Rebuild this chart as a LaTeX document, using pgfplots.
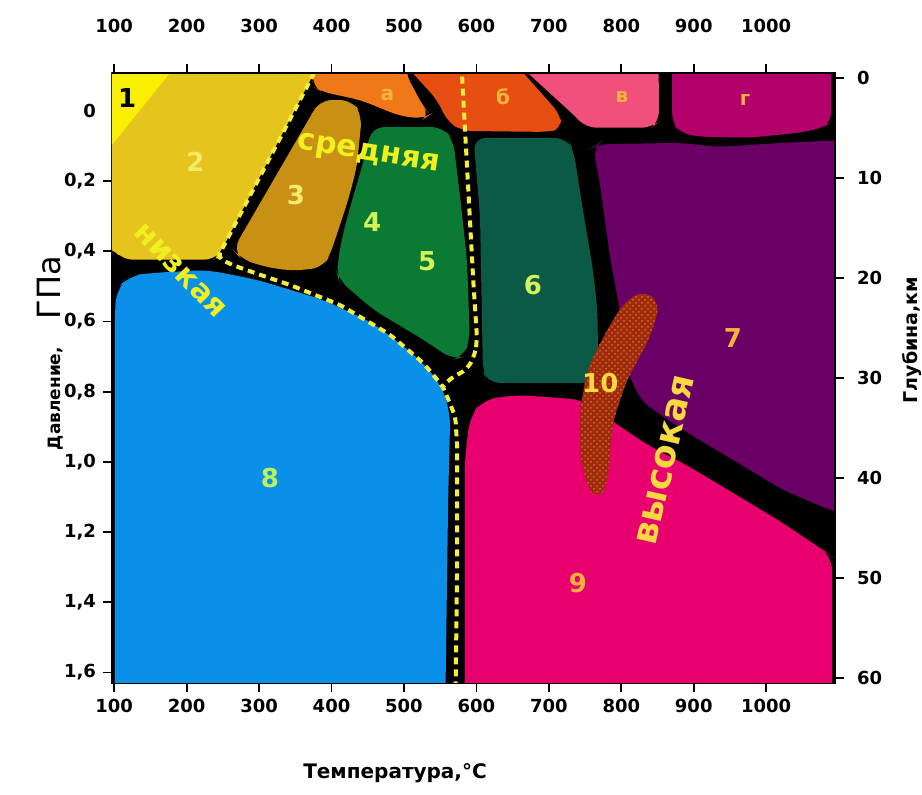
\documentclass[border=0pt]{standalone}
\usepackage{fontspec}
\setmainfont{DejaVu Sans}
\usepackage{pgfplots}
\pgfplotsset{compat=1.18}
\usetikzlibrary{patterns}
\definecolor{c1}{HTML}{F8F000}
\definecolor{c2}{HTML}{E6C41E}
\definecolor{c3}{HTML}{C89114}
\definecolor{ca}{HTML}{F07818}
\definecolor{cb}{HTML}{E64E12}
\definecolor{cv}{HTML}{F0507A}
\definecolor{cg}{HTML}{B4006A}
\definecolor{c45}{HTML}{0A7A35}
\definecolor{c6}{HTML}{0B5A46}
\definecolor{c7}{HTML}{6A0066}
\definecolor{c8}{HTML}{0A90E8}
\definecolor{c9}{HTML}{E8006E}
\definecolor{c10}{HTML}{9A2C0C}
\definecolor{c10b}{HTML}{E8602A}
\definecolor{dash}{HTML}{F2EE3A}
\definecolor{lyel}{HTML}{F6EA6C}
\definecolor{lgrn}{HTML}{D4F25A}
\definecolor{lorg}{HTML}{F2B43A}
\definecolor{lgr8}{HTML}{B9F35E}
\definecolor{ltxt}{HTML}{F0F020}
\definecolor{lvys}{HTML}{F8D840}
\begin{document}
\begin{tikzpicture}
\begin{axis}[
  scale only axis, width=361.5pt, height=305pt,
  xmin=97, xmax=1095, ymin=-0.108, ymax=1.63, y dir=reverse,
  axis background/.style={fill=black},
  axis line style={black, line width=1.3pt},
  xtick={100,200,300,400,500,600,700,800,900,1000}, xtick pos=bottom,
  ytick={0.2,0.4,0.6,0.8,1.0,1.2,1.4,1.6}, ytick pos=left,
  yticklabels={{0,2},{0,4},{0,6},{0,8},{1,0},{1,2},{1,4},{1,6}},
  extra y ticks={0}, extra y tick labels={0},
  extra y tick style={major tick length=0pt, yticklabel style={xshift=-4.5pt}},
  xticklabels={100,200,300,400,500,600,700,800,900,1000},
  tick align=outside, major tick length=4.5pt,
  tick style={black, line width=0.9pt},
  ticklabel style={font=\fontsize{9}{9}\selectfont\bfseries},
  /pgf/number format/assume math mode=true,
]
% region 2
\addplot[fill=c2, draw=none, rounded corners=5pt] coordinates {(80,-0.2) (400,-0.2) (376,-0.108) (246,0.405) (238,0.424) (112,0.424) (97,0.39) (80,0.39)} -- cycle;
% region 1
\addplot[fill=c1, draw=none] coordinates {(80,-0.2) (213,-0.2) (80,0.14)} -- cycle;
% a
\addplot[fill=ca, draw=none, rounded corners=5pt] coordinates {(376,-0.2) (505,-0.2) (502,-0.108) (527,-0.011) (536,0.011) (528,0.022) (495,0.015) (440,-0.031) (388,-0.054) (373,-0.07) (376,-0.108)} -- cycle;
% b
\addplot[fill=cb, draw=none, rounded corners=5pt] coordinates {(471,-0.2) (512,-0.108) (546,-0.031) (560,0.03) (580,0.057) (700,0.06) (718,0.05) (716,0.011) (665,-0.108) (626,-0.2)} -- cycle;
% v
\addplot[fill=cv, draw=none, rounded corners=5pt] coordinates {(624,-0.2) (671,-0.108) (734,0.011) (752,0.048) (842,0.048) (852,0.03) (852,-0.06) (850,-0.2)} -- cycle;
% g
\addplot[fill=cg, draw=none, rounded corners=5pt] coordinates {(870,-0.2) (870,0.03) (881,0.063) (909,0.074) (978,0.076) (1047,0.062) (1079,0.048) (1090,0.03) (1090,-0.2)} -- cycle;
% 3
\addplot[fill=c3, draw=none, rounded corners=6pt] coordinates {(384,-0.031) (428,-0.031) (442,0.011) (435,0.16) (423,0.254) (408,0.348) (398,0.41) (388,0.447) (343,0.456) (301,0.441) (274,0.419) (264,0.396)} -- cycle;
% 4-5
\addplot[fill=c45, draw=none, rounded corners=6pt] coordinates {(456,0.046) (554,0.046) (568,0.083) (578,0.254) (587,0.424) (591,0.652) (582,0.701) (568,0.709) (527,0.652) (458,0.567) (410,0.481) (408,0.467) (409,0.424) (416,0.348) (428.5,0.254) (442,0.16)} -- cycle;
% 6
\addplot[fill=c6, draw=none, rounded corners=6pt] coordinates {(596,0.077) (725,0.077) (734,0.111) (747,0.282) (761,0.453) (767,0.567) (768,0.701) (765,0.775) (615,0.775) (609,0.74) (605,0.3)} -- cycle;
% 7
\addplot[fill=c7, draw=none, rounded corners=6pt] coordinates {(761,0.103) (767,0.095) (885,0.091) (932,0.103) (1023,0.091) (1110,0.083) (1110,1.15) (1088,1.137) (1023,1.08) (954,0.994) (885,0.909) (850,0.86) (826,0.823) (808,0.738) (794,0.519) (785,0.424) (770,0.2)} -- cycle;
% 8
\addplot[fill=c8, draw=none, rounded corners=7pt] coordinates {(101,1.7) (101,0.576) (103,0.51) (120,0.47) (150,0.462) (228,0.453) (297,0.481) (388,0.538) (457,0.604) (518,0.701) (550,0.775) (564,0.86) (561,1.108) (557,1.7)} -- cycle;
% 9
\addplot[fill=c9, draw=none, rounded corners=7pt] coordinates {(584,1.7) (584,0.994) (591,0.872) (609,0.823) (656,0.809) (747,0.823) (785,0.88) (840,0.957) (885,1.003) (954,1.088) (1023,1.174) (1084,1.259) (1091,1.27) (1091,1.7)} -- cycle;
% 10
\addplot[fill=c10, draw=none, rounded corners=6pt] coordinates {(830,0.51) (854,0.547) (840,0.644) (808,0.766) (789,0.88) (785,0.974) (780,1.071) (767,1.108) (753,1.071) (743,0.974) (743,0.852) (753,0.738) (775,0.644) (803,0.547)} -- cycle;
\addplot[pattern=crosshatch dots, pattern color=c10b, draw=none, rounded corners=6pt] coordinates {(830,0.51) (854,0.547) (840,0.644) (808,0.766) (789,0.88) (785,0.974) (780,1.071) (767,1.108) (753,1.071) (743,0.974) (743,0.852) (753,0.738) (775,0.644) (803,0.547)} -- cycle;
% dashed boundaries
\addplot[draw=dash, line width=2pt, dash pattern=on 3.5pt off 2.5pt, rounded corners=3pt] coordinates {(400,-0.2) (376,-0.108) (246,0.405) (243.5,0.42) (267,0.442) (301.5,0.467) (343,0.496) (412,0.553) (481,0.638) (526.5,0.718) (554,0.786) (571,0.872) (573.5,0.957) (573.5,1.279) (571,1.7)};
\addplot[draw=dash, line width=2pt, dash pattern=on 3.5pt off 2.5pt, rounded corners=4pt] coordinates {(578,-0.2) (580,-0.108) (595.6,0.481) (601,0.652) (598,0.695) (587,0.738) (564,0.761) (554,0.786)};
% labels
\node[font=\fontsize{13}{13}\selectfont\bfseries, text=black] at (118,-0.037) {1};
\node[font=\fontsize{13}{13}\selectfont\bfseries, text=lyel] at (212,0.145) {2};
\node[font=\fontsize{13}{13}\selectfont\bfseries, text=lyel] at (351,0.239) {3};
\node[font=\fontsize{13}{13}\selectfont\bfseries, text=lgrn] at (456,0.316) {4};
\node[font=\fontsize{13}{13}\selectfont\bfseries, text=lgrn] at (532,0.427) {5};
\node[font=\fontsize{13}{13}\selectfont\bfseries, text=lgrn] at (678,0.496) {6};
\node[font=\fontsize{13}{13}\selectfont\bfseries, text=lorg] at (954,0.647) {7};
\node[font=\fontsize{13}{13}\selectfont\bfseries, text=lgr8] at (315,1.046) {8};
\node[font=\fontsize{13}{13}\selectfont\bfseries, text=lorg] at (740,1.345) {9};
\node[font=\fontsize{13}{13}\selectfont\bfseries, text=lvys] at (771,0.775) {10};
\node[font=\fontsize{10}{10}\selectfont\bfseries, text=lorg] at (477,-0.046) {а};
\node[font=\fontsize{10}{10}\selectfont\bfseries, text=lorg] at (637,-0.040) {б};
\node[font=\fontsize{10}{10}\selectfont\bfseries, text=lorg] at (801,-0.040) {в};
\node[font=\fontsize{10}{10}\selectfont\bfseries, text=lorg] at (971,-0.031) {г};
\node[font=\fontsize{15}{15}\selectfont\bfseries, text=ltxt, rotate=-9] at (451,0.125) {средняя};
\node[font=\fontsize{15}{15}\selectfont\bfseries, text=ltxt, rotate=-46] at (191,0.456) {низкая};
\node[font=\fontsize{18}{18}\selectfont\bfseries, text=lvys, rotate=77] at (861,0.994) {высокая};
\end{axis}
\begin{axis}[
  scale only axis, width=361.5pt, height=305pt,
  xmin=97, xmax=1095, ymin=-0.5, ymax=60.5, y dir=reverse,
  axis x line*=top, axis y line*=right,
  axis line style={black, line width=1.3pt},
  xtick={100,200,300,400,500,600,700,800,900,1000},
  xticklabels={100,200,300,400,500,600,700,800,900,1000},
  ytick={0,10,20,30,40,50,60},
  yticklabels={0,10,20,30,40,50,60},
  tick align=outside, major tick length=4.5pt,
  tick style={black, line width=0.9pt},
  ticklabel style={font=\fontsize{9}{9}\selectfont\bfseries},
  xticklabel style={yshift=12pt},
  yticklabel style={xshift=3pt},
  /pgf/number format/assume math mode=true,
]
\end{axis}
\node[font=\fontsize{10}{10}\selectfont\bfseries] at (141.5pt,-45pt) {Температура,°C};
\node[rotate=90] at (-31pt,165pt) {{\fontsize{8.5}{9}\selectfont\bfseries Давление,}\hspace{14pt}{\fontsize{16}{16}\selectfont ГПа}};
\node[rotate=90, font=\fontsize{9.5}{10}\selectfont\bfseries] at (400pt,171.5pt) {Глубина,км};
\pgfresetboundingbox
\path[use as bounding box] (-56pt,-56pt) rectangle (405pt,341.5pt);
\end{tikzpicture}
\end{document}
